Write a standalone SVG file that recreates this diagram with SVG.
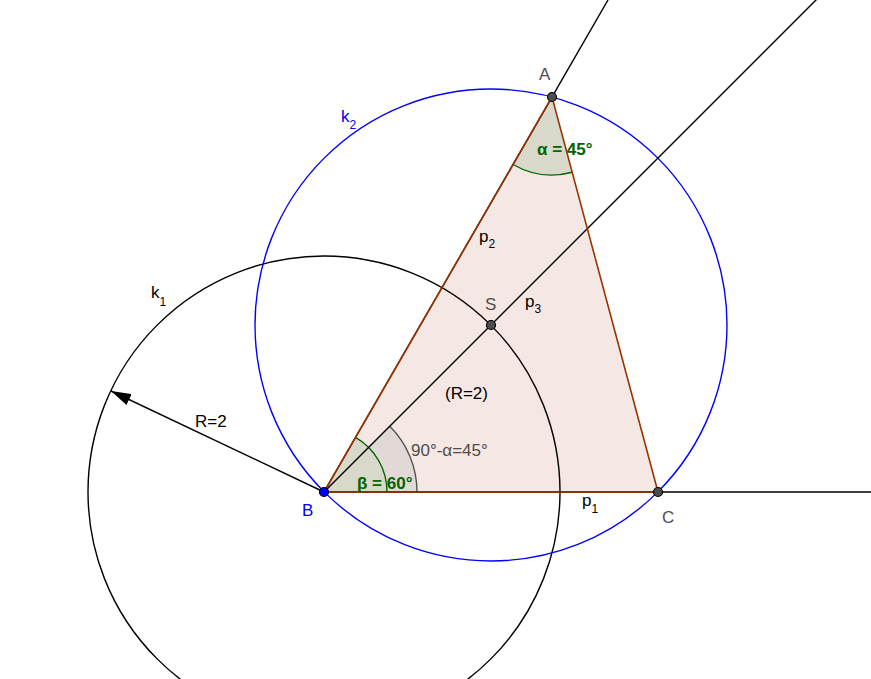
<svg xmlns="http://www.w3.org/2000/svg" width="871" height="679" viewBox="0 0 871 679">
<defs>
<style>
text{font-family:"Liberation Sans",Arial,sans-serif;font-size:17px}
.sub{font-size:12px}
.line{stroke:#000;stroke-width:1.4;fill:none}
.pt{fill:#4d4d4d;stroke:#000;stroke-width:1.2}
.green{fill:#006400;font-weight:bold;font-size:17px}
.gray{fill:#4d4d4d}
.blue{fill:#0000ff}
</style>
<marker id="ahL" viewBox="0 0 20 12" refX="20" refY="6" markerWidth="20" markerHeight="12" markerUnits="userSpaceOnUse" orient="auto">
<path d="M0,0 L20,6 L0,12 Z" fill="#000"/>
</marker>
</defs>
<rect width="871" height="679" fill="#fff"/>
<g id="triangle">
<polygon points="324,492 658,492 552,97" fill="#f5e8e4" stroke="none"/>
</g>
<g id="angles">
<path d="M552,97 L513,164.5 A78,78 0 0 0 572.2,172.3 Z" fill="#d9d9cb" stroke="none"/>
<path d="M513,164.5 A78,78 0 0 0 572.2,172.3" fill="none" stroke="#006400" stroke-width="1.4"/>
<path d="M324,492 L417,492 A93,93 0 0 0 389.8,426.2 Z" fill="#e2d9d6" stroke="none"/>
<path d="M417,492 A93,93 0 0 0 389.8,426.2" fill="none" stroke="#555" stroke-width="1.4"/>
<path d="M324,492 L387,492 A63,63 0 0 0 355.5,437.4 Z" fill="#d9d9cb" stroke="none"/>
<path d="M387,492 A63,63 0 0 0 355.5,437.4" fill="none" stroke="#006400" stroke-width="1.4"/>
</g>
<g id="connectors">
<circle id="k1" cx="324" cy="492" r="236" class="line"/>
<circle id="k2" cx="491" cy="325" r="236" fill="none" stroke="#0000ff" stroke-width="1.4"/>
<line x1="324" y1="492" x2="871" y2="492" class="line"/>
<line x1="324" y1="492" x2="608" y2="0" class="line"/>
<line x1="324" y1="492" x2="817" y2="-1" class="line"/>
<polyline points="324,492 658,492 552,97 324,492" fill="none" stroke="#993300" stroke-width="1.6"/>
<line x1="324" y1="492" x2="111" y2="391" class="line" marker-end="url(#ahL)"/>
</g>
<g id="A"><circle cx="552" cy="97" r="4.5" class="pt"/><text x="539" y="80" class="gray">A</text></g>
<g id="B"><circle cx="324" cy="492" r="4.5" fill="#0000ff" stroke="#000" stroke-width="1.2"/><text x="302" y="516" class="blue">B</text></g>
<g id="C"><circle cx="658" cy="492" r="4.5" class="pt"/><text x="662" y="523" class="gray">C</text></g>
<g id="S"><circle cx="491" cy="325" r="4.5" class="pt"/><text x="485" y="310" class="gray">S</text></g>
<g id="labels">
<text x="537" y="155" class="green">α = 45°</text>
<text x="357" y="489" class="green">β = 60°</text>
<text x="411" y="456" class="gray">90°-α=45°</text>
<text x="445" y="399">(R=2)</text>
<text x="195" y="427">R=2</text>
<text x="525" y="307">p<tspan class="sub" dy="6">3</tspan></text>
<text x="479" y="242">p<tspan class="sub" dy="6">2</tspan></text>
<text x="582" y="506">p<tspan class="sub" dy="7">1</tspan></text>
<text x="151" y="298">k<tspan class="sub" dy="8">1</tspan></text>
<text x="341" y="122" class="blue">k<tspan class="sub" dy="7">2</tspan></text>
</g>
</svg>
